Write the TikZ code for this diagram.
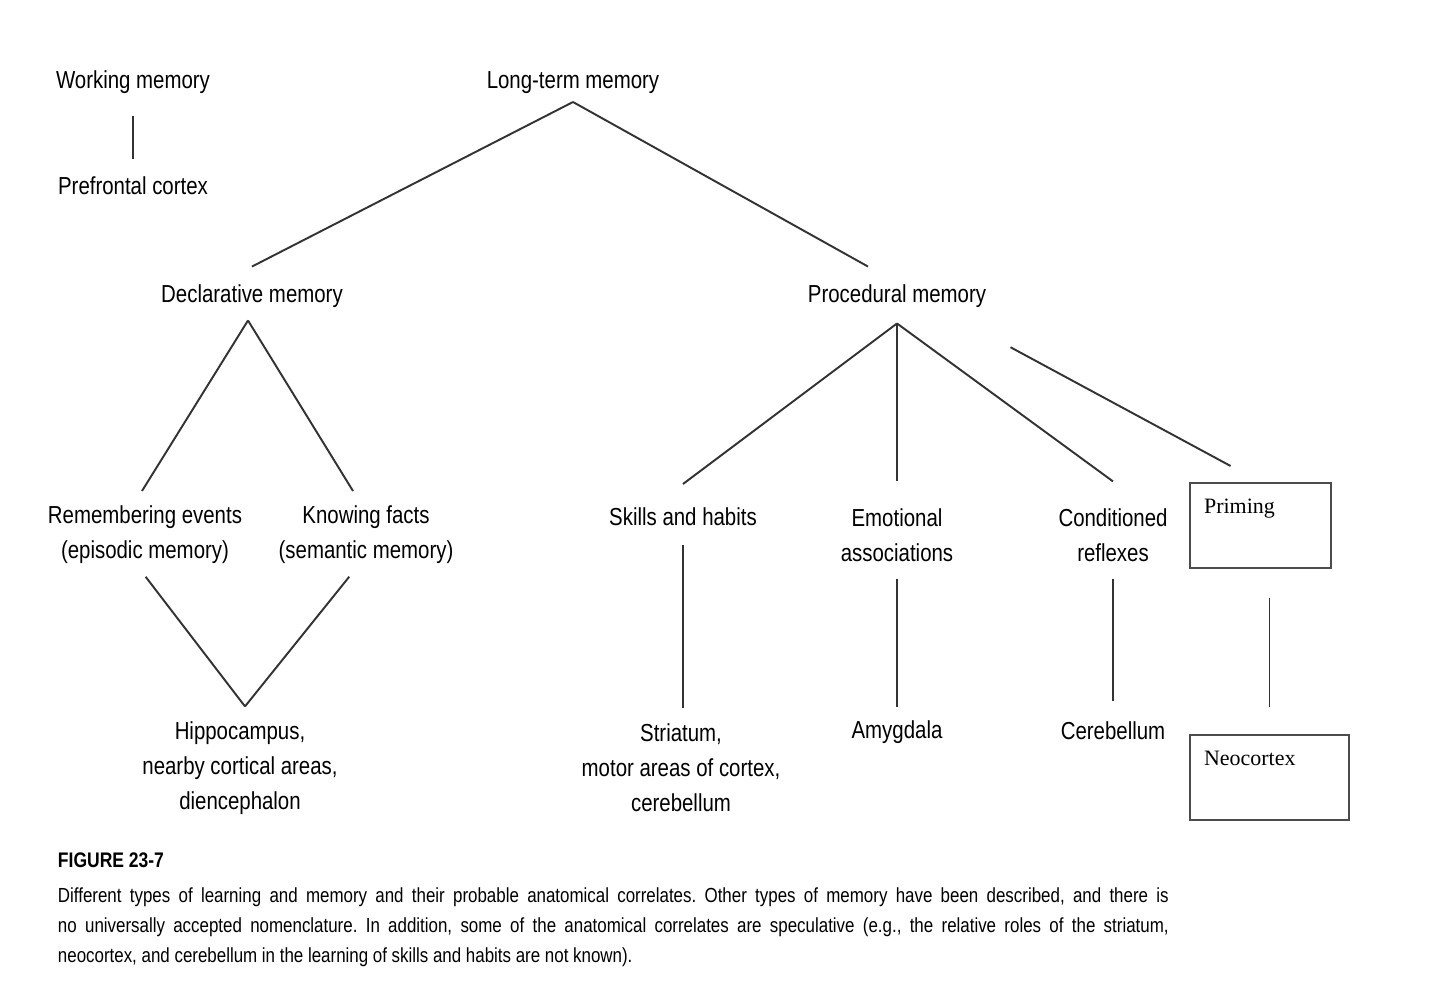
\documentclass[tikz,border=0pt]{standalone}
\usepackage{fontspec}
\setmainfont{Liberation Sans}[FakeStretch=0.83]
\newfontfamily\boxfont{Liberation Serif}
\usetikzlibrary{positioning}
\frenchspacing

\begin{document}
\begin{tikzpicture}[x=0.02cm, y=-0.02cm, line width=1.1pt,
    every node/.style={font=\fontsize{14}{20}\selectfont, align=center, inner sep=4pt},
    conn/.style={draw=black!80},
    boxnode/.style={draw=black!70, line width=1pt, inner sep=0pt},
    boxtext/.style={anchor=north west, inner xsep=0.28cm, inner ysep=0.32cm,
        font=\boxfont\fontsize{12.5}{15}\selectfont}]
        \useasboundingbox (0,0) rectangle (1440,990);

        % Nodes
        \node (work) at (133, 82) {Working memory};
        \node (pfc) at (133, 186) {Prefrontal cortex};
        \node (ltm) at (573, 83) {Long-term memory};
        \node (decl) at (252, 296) {Declarative memory};
        \node (proc) at (897, 296) {Procedural memory};
        \node (episodic) at (145, 535) {Remembering events\\(episodic memory)};
        \node (semantic) at (366, 535) {Knowing facts\\(semantic memory)};
        \node (hippo) at (240, 768) {Hippocampus,\\nearby cortical areas,\\diencephalon};
        \node (skills) at (683, 517) {Skills and habits};
        \node (emo) at (897, 535) {Emotional\\associations};
        \node (cond) at (1113, 535) {Conditioned\\reflexes};
        \node (striatum) at (681, 768) {Striatum,\\motor areas of cortex,\\cerebellum};
        \node (amyg) at (897, 732) {Amygdala};
        \node (cereb) at (1113, 731) {Cerebellum};
        \node[boxnode, minimum width=2.82cm, minimum height=1.7cm,
            label={[boxtext]north west:Priming}] (priming) at (1260.5, 525.5) {};
        \node[boxnode, minimum width=3.18cm, minimum height=1.7cm,
            label={[boxtext]north west:Neocortex}] (neo) at (1269.5, 777.5) {};

        % Caption
        \node[anchor=west, inner sep=0pt, font=\bfseries\fontsize{12}{14}\selectfont] (figno) at (57, 860) {FIGURE 23-7};
        \node[anchor=north west, inner sep=0pt, align=justify, text width=22.22cm,
            font=\fontsize{11.6}{17}\selectfont] (caption) at (57, 887)
            {Different types of learning and memory and their probable anatomical correlates. Other types of memory have been described, and there is\linebreak
            no universally accepted nomenclature. In addition, some of the anatomical correlates are speculative (e.g., the relative roles of the striatum,\linebreak
            neocortex, and cerebellum in the learning of skills and habits are not known).};

        % Edges
        \draw[conn, shorten <=0.29cm, shorten >=0.2cm] (work) -- (pfc);
        \draw[conn] (ltm.south) -- ([yshift=0.2cm]decl.north);
        \draw[conn] (ltm.south) -- ([xshift=-0.58cm, yshift=0.2cm]proc.north);
        \draw[conn] ([xshift=-0.08cm, yshift=-0.1cm]decl.south) -- ([xshift=-0.06cm, yshift=0.14cm]episodic.north);
        \draw[conn] ([xshift=-0.08cm, yshift=-0.1cm]decl.south) -- ([xshift=-0.26cm, yshift=0.14cm]semantic.north);
        \draw[conn, shorten <=0.12cm] ([xshift=-0.06cm]episodic.south) -- ([xshift=0.1cm, yshift=0.14cm]hippo.north);
        \draw[conn, shorten <=0.12cm] ([xshift=-0.26cm]semantic.south) -- ([xshift=0.1cm, yshift=0.14cm]hippo.north);
        \draw[conn] ([yshift=-0.16cm]proc.south) -- ([yshift=0.32cm]skills.north);
        \draw[conn] ([yshift=-0.16cm]proc.south) -- ([yshift=0.38cm]emo.north);
        \draw[conn] ([yshift=-0.16cm]proc.south) -- ([yshift=0.38cm]cond.north);
        \draw[conn, shorten <=2.58cm, shorten >=0.68cm] ([yshift=0.2cm]proc.center) -- (priming.north);
        \draw[conn, shorten <=0.22cm, shorten >=0.15cm] (skills.south) -- (skills.south |- striatum.north);
        \draw[conn, shorten <=0.18cm, shorten >=0.12cm] (emo.south) -- (amyg.north);
        \draw[conn, shorten <=0.18cm, shorten >=0.26cm] (cond.south) -- (cereb.north);
        \draw[conn, shorten <=0.58cm, shorten >=0.54cm] (priming.south -| neo.north) -- (neo.north);
\end{tikzpicture}
\end{document}
